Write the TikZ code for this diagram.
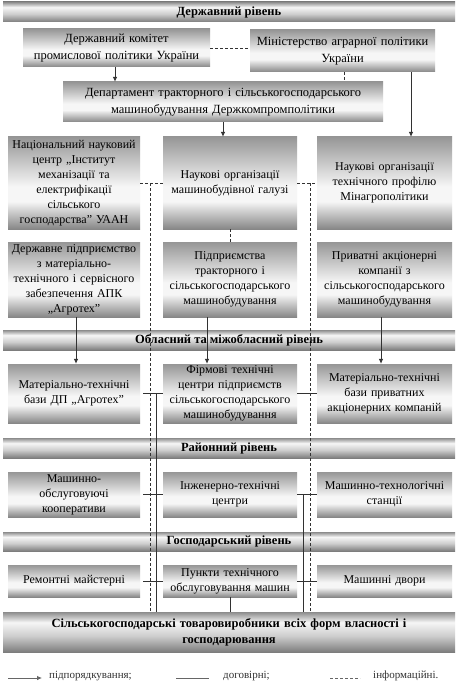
\documentclass[tikz,border=0pt]{standalone}
\usepackage{fontspec}
\setmainfont{Liberation Serif}
\usetikzlibrary{arrows.meta}
\definecolor{bxtop}{RGB}{150,150,150}
\definecolor{bxlight}{RGB}{246,246,246}
\definecolor{bxbot}{RGB}{135,135,135}
\definecolor{brtop}{RGB}{140,140,140}
\definecolor{brlight}{RGB}{246,246,246}
\definecolor{brmid}{RGB}{205,205,205}
\definecolor{brbot}{RGB}{125,125,125}
\definecolor{lncol}{RGB}{50,50,50}
\pgfdeclareverticalshading{boxsh}{100bp}{color(0bp)=(bxbot); color(25bp)=(bxbot); color(40bp)=(bxlight); color(48bp)=(bxlight); color(75bp)=(bxtop); color(100bp)=(bxtop)}
\pgfdeclareverticalshading{barsh}{100bp}{color(0bp)=(brbot); color(25bp)=(brbot); color(45bp)=(brmid); color(62bp)=(brlight); color(75bp)=(brtop); color(100bp)=(brtop)}
\begin{document}
\begin{tikzpicture}[x=1pt,y=-1pt,
  box/.style={shading=boxsh, inner sep=0pt, align=center, font=\fontsize{12}{15}\selectfont},
  topbox/.style={box, font=\fontsize{12.5}{17.5}\selectfont},
  bar/.style={shading=barsh, inner sep=0pt, align=center, minimum width=452pt, font=\bfseries\fontsize{12.5}{16}\selectfont},
  solid line/.style={draw=lncol, line width=0.75pt},
  arr/.style={solid line, -{Latex[length=5pt,width=4.5pt]}},
  info/.style={draw=lncol, line width=0.75pt, dash pattern=on 3pt off 2pt},
  legtext/.style={anchor=west, inner sep=0pt, font=\fontsize{11}{13}\selectfont, text=black!80}
]
\useasboundingbox (0,0) rectangle (460,695);
\fill[white] (0,0) rectangle (460,695);

% level bars
\node[bar, minimum height=20pt] (lvl1) at (229,12) {Державний рівень};
\node[bar, minimum height=20pt] (lvl2) at (229,340) {Обласний та міжобласний рівень};
\node[bar, minimum height=20pt] (lvl3) at (229,448) {Районний рівень};
\node[bar, minimum height=19pt] (lvl4) at (229,541.5) {Господарський рівень};
\node[bar, minimum height=40pt, text width=440pt] (bot) at (229,632) {Сільськогосподарські товаровиробники всіх форм власності і\\господарювання};

% top boxes
\node[topbox, minimum width=187pt, minimum height=38pt, text width=185pt] (com) at (116.5,48) {Державний комітет\\промислової політики України};
\node[topbox, minimum width=185pt, minimum height=42pt, text width=183pt] (min) at (342.5,51) {Міністерство аграрної політики\\України};
\node[topbox, minimum width=320pt, minimum height=40pt, text width=318pt] (dep) at (223,102) {Департамент тракторного і сільськогосподарського\\машинобудування Держкомпромполітики};

% row 1
\node[box, minimum width=132pt, minimum height=92pt, text width=130pt] (r1a) at (74,183) {Національний науковий\\центр „Інститут\\механізації та\\електрифікації\\сільського\\господарства” УААН};
\node[box, minimum width=134pt, minimum height=92pt, text width=132pt] (r1b) at (230,183) {Наукові організації\\машинобудівної галузі};
\node[box, minimum width=135pt, minimum height=92pt, text width=133pt] (r1c) at (384.5,183) {Наукові організації\\технічного профілю\\Мінагрополітики};

% row 2
\node[box, minimum width=132pt, minimum height=75pt, text width=130pt] (r2a) at (74,279.5) {Державне підприємство\\з матеріально-\\технічного і сервісного\\забезпечення АПК\\„Агротех”};
\node[box, minimum width=134pt, minimum height=75pt, text width=132pt] (r2b) at (230,279.5) {Підприємства\\тракторного і\\сільськогосподарського\\машинобудування};
\node[box, minimum width=135pt, minimum height=75pt, text width=133pt] (r2c) at (384.5,279.5) {Приватні акціонерні\\компанії з\\сільськогосподарського\\машинобудування};

% row 3
\node[box, minimum width=132pt, minimum height=59pt, text width=130pt] (r3a) at (74,393.5) {Матеріально-технічні\\бази ДП „Агротех”};
\node[box, minimum width=134pt, minimum height=59pt, text width=132pt] (r3b) at (230,393.5) {Фірмові технічні\\центри підприємств\\сільськогосподарського\\машинобудування};
\node[box, minimum width=135pt, minimum height=59pt, text width=133pt] (r3c) at (384.5,393.5) {Матеріально-технічні\\бази приватних\\акціонерних компаній};

% row 4
\node[box, minimum width=132pt, minimum height=45pt, text width=130pt] (r4a) at (74,494.5) {Машинно-\\обслуговуючі\\кооперативи};
\node[box, minimum width=134pt, minimum height=45pt, text width=132pt] (r4b) at (230,494.5) {Інженерно-технічні\\центри};
\node[box, minimum width=135pt, minimum height=45pt, text width=133pt] (r4c) at (384.5,494.5) {Машинно-технологічні\\станції};

% row 5
\node[box, minimum width=132pt, minimum height=32pt, text width=130pt] (r5a) at (74,581) {Ремонтні майстерні};
\node[box, minimum width=134pt, minimum height=32pt, text width=132pt] (r5b) at (230,581) {Пункти технічного\\обслуговування машин};
\node[box, minimum width=135pt, minimum height=32pt, text width=133pt] (r5c) at (384.5,581) {Машинні двори};

% x positions
\coordinate (x115) at (115,0);
\coordinate (x344) at (344,0);
\coordinate (x411) at (411,0);
\coordinate (x223) at (223,0);
\coordinate (x150) at (150,0);
\coordinate (x310) at (310,0);
\coordinate (x76) at (76,0);
\coordinate (x207) at (207,0);
\coordinate (x381) at (381,0);
\coordinate (x156) at (156,0);
\coordinate (x303) at (303,0);

% top connectors
\draw[arr] (com.south -| x115) -- (dep.north -| x115);
\draw[info] (com.east) -- (com.east -| min.west);
\draw[info] (min.south -| x344) -- (dep.north -| x344);
\draw[arr] (min.south -| x411) -- (r1c.north -| x411);
\draw[arr] (dep.south -| x223) -- (r1b.north -| x223);

% information (dashed) links
\draw[info] (r1a.east) -- (r1b.west);
\draw[info] (r1b.east) -- (r1c.west);
\draw[info] (r1a.east -| x150) -- (bot.north -| x150);
\draw[info] (r1b.east -| x310) -- (bot.north -| x310);
\draw[info] (r1b.south) -- (r2b.north);

% subordination arrows
\draw[arr] (r2a.south -| x76) -- (r3a.north -| x76);
\draw[arr] (r2b.south -| x207) -- (r3b.north -| x207);
\draw[arr] (r2c.south -| x381) -- (r3c.north -| x381);

% contract links
\draw[solid line] ([xshift=3pt]r3a.east) -- (r3b.west);
\draw[solid line] (r3b.east) -- (r3c.west);
\draw[solid line] (r3a.east -| x156) -- (bot.north -| x156);
\draw[solid line] ([xshift=3pt]r4a.east) -- (r4b.west);
\draw[solid line] (r4b.east) -- (r4c.west);
\draw[solid line] (r4b.east -| x303) -- (bot.north -| x303);
\draw[solid line] ([xshift=3pt]r5a.east) -- (r5b.west);
\draw[solid line] (r5b.east) -- (r5c.west);
\draw[solid line] (r5b.south) -- (r5b.south |- bot.north);

% legend
\coordinate (la1) at (8,678);
\coordinate (la2) at (42,678);
\coordinate (lb1) at (176,678);
\coordinate (lb2) at (209,678);
\coordinate (lc1) at (330,678);
\coordinate (lc2) at (360,678);
\draw[arr, draw=black!60] (la1) -- (la2);
\draw[solid line, draw=black!60] (lb1) -- (lb2);
\draw[info, draw=black!60] (lc1) -- (lc2);
\node[legtext] (lt1) at (49,676) {підпорядкування;};
\node[legtext] (lt2) at (223,676) {договірні;};
\node[legtext] (lt3) at (373,676) {інформаційні.};
\end{tikzpicture}
\end{document}
